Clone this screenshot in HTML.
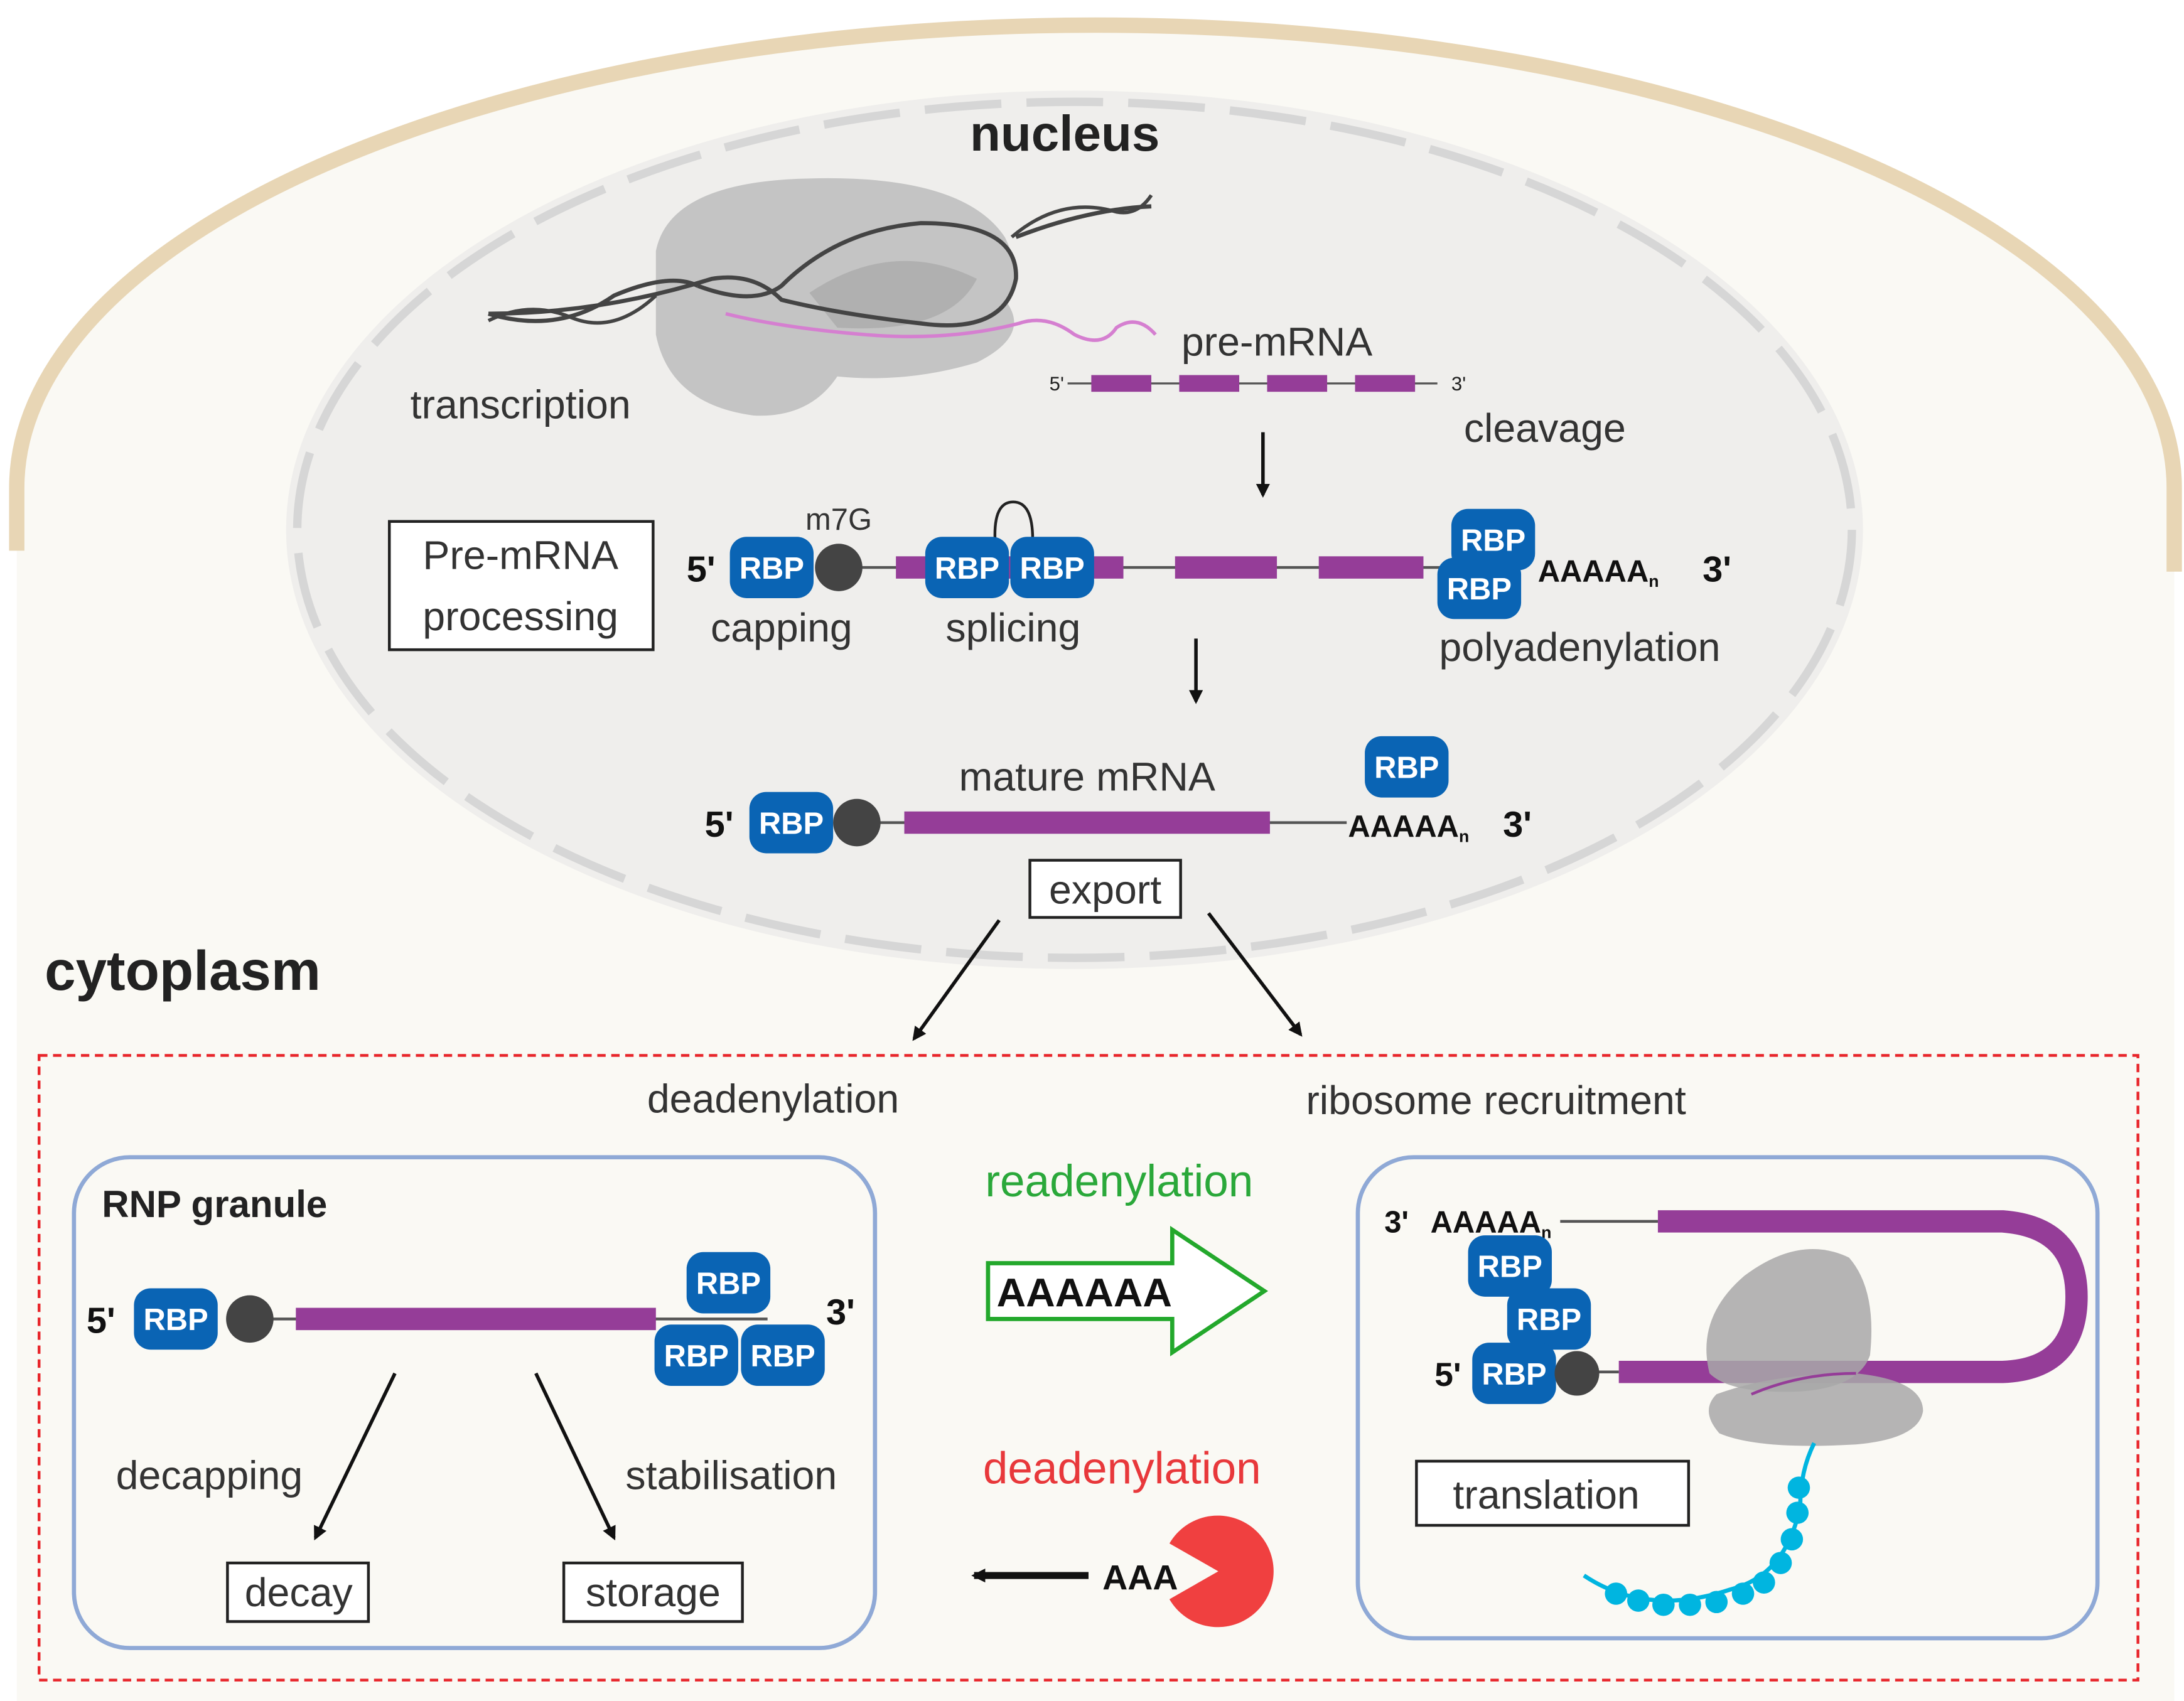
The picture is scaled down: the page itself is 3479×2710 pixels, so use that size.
<!DOCTYPE html>
<html><head><meta charset="utf-8"><style>
html,body{margin:0;padding:0;background:#fff;}
svg{display:block;}
text{font-family:"Liberation Sans",sans-serif;}
.t{fill:#333;font-size:29px;}
.rb{fill:#0a64b4;}
.rt{fill:#fff;font-size:22px;font-weight:bold;text-anchor:middle;}
.k{font-weight:bold;fill:#111;}
</style></head><body>
<svg width="3479" height="2710" viewBox="0 0 1565 1220" preserveAspectRatio="none" xmlns="http://www.w3.org/2000/svg">
<defs>
<marker id="ah" markerWidth="10" markerHeight="10" refX="8" refY="5" orient="auto" markerUnits="userSpaceOnUse"><path d="M0,0 L10,5 L0,10 z" fill="#111"/></marker>
<g id="rbp"><rect x="0" y="0" width="60" height="44" rx="12" class="rb"/></g>
</defs>
<rect width="1565" height="1220" fill="#fff"/>
<!-- cell -->
<path d="M12,1220 L12,350 A773,332 0 0,1 1558,350 L1558,1220 Z" fill="#faf9f4"/>
<path d="M12,395 L12,350 A773,332 0 0,1 1558,350 L1558,410" fill="none" stroke="#e8d6b5" stroke-width="11"/>
<!-- nucleus -->
<ellipse cx="770" cy="380" rx="565" ry="315" fill="#efeeec"/>
<ellipse cx="770" cy="380" rx="557" ry="307" fill="none" stroke="#d6d6d6" stroke-width="6" stroke-dasharray="55,18"/>
<text x="763" y="108" text-anchor="middle" font-size="36" font-weight="bold" fill="#222">nucleus</text>
<!-- polymerase -->
<path d="M470,180 Q480,130 580,128 Q690,125 720,170 Q735,200 720,215 Q740,240 700,260 Q650,275 600,270 Q580,300 540,298 Q480,290 470,240 Z" fill="#c4c4c4"/>
<path d="M580,210 Q640,170 700,200 Q680,240 600,235 Z" fill="#b0b0b0"/>
<path d="M350,225 Q400,240 440,212 Q480,195 500,205 M500,205 Q540,220 560,205 Q600,165 660,160 Q730,160 728,200 Q720,240 660,232 Q600,225 560,215 Q540,195 510,200 Q430,225 350,225 M728,170 Q780,150 825,148" stroke="#444" stroke-width="3" fill="none"/>
<path d="M350,230 Q380,215 410,228 Q440,240 470,212 M725,170 Q760,140 800,152 Q815,155 825,140" stroke="#444" stroke-width="2.5" fill="none"/>
<path d="M520,225 Q560,235 620,240 Q680,245 730,232 Q750,225 770,240 Q790,250 800,235 Q815,225 828,240" stroke="#d57fd0" stroke-width="2.5" fill="none"/>
<text x="373" y="300" text-anchor="middle" class="t">transcription</text>
<text x="915" y="255" text-anchor="middle" class="t">pre-mRNA</text>
<text x="752" y="280" font-size="14" fill="#222">5'</text>
<text x="1040" y="280" font-size="14" fill="#222">3'</text>
<line x1="765" y1="275" x2="1030" y2="275" stroke="#555" stroke-width="1.5"/>
<rect x="782" y="269" width="43" height="12" fill="#953d98"/>
<rect x="845" y="269" width="43" height="12" fill="#953d98"/>
<rect x="908" y="269" width="43" height="12" fill="#953d98"/>
<rect x="971" y="269" width="43" height="12" fill="#953d98"/>
<text x="1107" y="317" text-anchor="middle" class="t">cleavage</text>
<line x1="905" y1="310" x2="905" y2="355" stroke="#111" stroke-width="2.5" marker-end="url(#ah)"/>
<!-- processing -->
<rect x="279" y="374" width="189" height="92" fill="#fff" stroke="#222" stroke-width="2"/>
<text x="373" y="408" text-anchor="middle" class="t" fill="#222">Pre-mRNA</text>
<text x="373" y="452" text-anchor="middle" class="t" fill="#222">processing</text>
<text x="492" y="417" class="k" font-size="26">5'</text>
<line x1="600" y1="407" x2="1040" y2="407" stroke="#555" stroke-width="2"/>
<rect x="642" y="399" width="163" height="16" fill="#953d98"/>
<rect x="842" y="399" width="73" height="16" fill="#953d98"/>
<rect x="945" y="399" width="75" height="16" fill="#953d98"/>
<use href="#rbp" x="523" y="385"/><text x="553" y="415" class="rt">RBP</text>
<circle cx="601" cy="407" r="17" fill="#444"/>
<text x="601" y="380" text-anchor="middle" font-size="22" fill="#333">m7G</text>
<path d="M713,387 Q712,360 726,360 Q740,360 740,387" stroke="#222" stroke-width="2" fill="none"/>
<use href="#rbp" x="663" y="385"/><text x="693" y="415" class="rt">RBP</text>
<use href="#rbp" x="724" y="385"/><text x="754" y="415" class="rt">RBP</text>
<use href="#rbp" x="1040" y="365"/><text x="1070" y="395" class="rt">RBP</text>
<use href="#rbp" x="1030" y="400"/><text x="1060" y="430" class="rt">RBP</text>
<text x="1102" y="417" class="k" font-size="22">AAAAA<tspan font-size="12" dy="4">n</tspan></text>
<text x="1220" y="417" class="k" font-size="26">3'</text>
<text x="560" y="460" text-anchor="middle" class="t">capping</text>
<text x="726" y="460" text-anchor="middle" class="t">splicing</text>
<text x="1132" y="474" text-anchor="middle" class="t">polyadenylation</text>
<line x1="857" y1="458" x2="857" y2="503" stroke="#111" stroke-width="2.5" marker-end="url(#ah)"/>
<!-- mature -->
<text x="779" y="567" text-anchor="middle" class="t">mature mRNA</text>
<text x="505" y="600" class="k" font-size="26">5'</text>
<line x1="614" y1="590" x2="965" y2="590" stroke="#555" stroke-width="2"/>
<rect x="648" y="582" width="262" height="16" fill="#953d98"/>
<use href="#rbp" x="537" y="568"/><text x="567" y="598" class="rt">RBP</text>
<circle cx="614" cy="590" r="17" fill="#444"/>
<use href="#rbp" x="978" y="528"/><text x="1008" y="558" class="rt">RBP</text>
<text x="966" y="600" class="k" font-size="22">AAAAA<tspan font-size="12" dy="4">n</tspan></text>
<text x="1077" y="600" class="k" font-size="26">3'</text>
<rect x="738" y="617" width="108" height="41" fill="#fff" stroke="#222" stroke-width="2"/>
<text x="792" y="648" text-anchor="middle" class="t" fill="#222">export</text>
<line x1="716" y1="660" x2="655" y2="745" stroke="#111" stroke-width="2.5" marker-end="url(#ah)"/>
<line x1="866" y1="655" x2="932" y2="742" stroke="#111" stroke-width="2.5" marker-end="url(#ah)"/>
<text x="32" y="710" font-size="40" font-weight="bold" fill="#222">cytoplasm</text>
<!-- red box -->
<rect x="28" y="757" width="1504" height="448" fill="none" stroke="#e8262b" stroke-width="2" stroke-dasharray="6,4"/>
<text x="554" y="798" text-anchor="middle" class="t">deadenylation</text>
<text x="1072" y="799" text-anchor="middle" class="t">ribosome recruitment</text>
<!-- RNP granule -->
<rect x="53" y="830" width="574" height="352" rx="40" fill="#faf9f4" stroke="#8fa9d6" stroke-width="3"/>
<text x="73" y="873" font-size="27" font-weight="bold" fill="#222">RNP granule</text>
<text x="62" y="956" class="k" font-size="26">5'</text>
<line x1="178" y1="946" x2="550" y2="946" stroke="#555" stroke-width="2"/>
<rect x="212" y="938" width="258" height="16" fill="#953d98"/>
<use href="#rbp" x="96" y="924"/><text x="126" y="954" class="rt">RBP</text>
<circle cx="179" cy="946" r="17" fill="#444"/>
<use href="#rbp" x="492" y="898"/><text x="522" y="928" class="rt">RBP</text>
<use href="#rbp" x="469" y="950"/><text x="499" y="980" class="rt">RBP</text>
<use href="#rbp" x="531" y="950"/><text x="561" y="980" class="rt">RBP</text>
<text x="592" y="950" class="k" font-size="26">3'</text>
<line x1="283" y1="985" x2="226" y2="1103" stroke="#111" stroke-width="2.5" marker-end="url(#ah)"/>
<line x1="384" y1="985" x2="440" y2="1103" stroke="#111" stroke-width="2.5" marker-end="url(#ah)"/>
<text x="150" y="1068" text-anchor="middle" class="t">decapping</text>
<text x="524" y="1068" text-anchor="middle" class="t">stabilisation</text>
<rect x="163" y="1121" width="101" height="42" fill="#fff" stroke="#222" stroke-width="2"/>
<text x="214" y="1152" text-anchor="middle" class="t" fill="#222">decay</text>
<rect x="404" y="1121" width="128" height="42" fill="#fff" stroke="#222" stroke-width="2"/>
<text x="468" y="1152" text-anchor="middle" class="t" fill="#222">storage</text>
<!-- middle -->
<text x="802" y="858" text-anchor="middle" font-size="32" fill="#2aa83a">readenylation</text>
<path d="M708,906 L840,906 L840,882 L906,926 L840,970 L840,946 L708,946 Z" fill="#fff" stroke="#23a82c" stroke-width="3"/>
<text x="777" y="937" text-anchor="middle" font-size="29" font-weight="bold" fill="#111">AAAAAA</text>
<text x="804" y="1064" text-anchor="middle" font-size="32" fill="#e8383b">deadenylation</text>
<path d="M873,1127 L838,1107 A40,40 0 1,1 838,1147 Z" fill="#f04040"/>
<text x="790" y="1140" font-size="25" font-weight="bold" fill="#111">AAA</text>
<line x1="780" y1="1130" x2="698" y2="1130" stroke="#111" stroke-width="5" marker-end="url(#ah)"/>
<!-- translation box -->
<rect x="973" y="830" width="530" height="345" rx="40" fill="#faf9f4" stroke="#8fa9d6" stroke-width="3"/>
<path d="M1188,876 L1435,876 Q1488,880 1488,930 Q1488,982 1435,984 L1160,984" stroke="#953d98" stroke-width="16" fill="none"/>
<line x1="1118" y1="876" x2="1188" y2="876" stroke="#555" stroke-width="2"/>
<line x1="1145" y1="984" x2="1160" y2="984" stroke="#555" stroke-width="2"/>
<path d="M1225,985 Q1215,945 1250,915 Q1290,885 1325,902 Q1345,925 1340,972 Q1332,995 1290,998 Q1240,1000 1225,985 Z" fill="#a8a8a8" fill-opacity="0.85"/>
<path d="M1230,1000 Q1270,985 1330,985 Q1378,990 1378,1012 Q1375,1032 1330,1036 Q1260,1040 1232,1028 Q1218,1012 1230,1000 Z" fill="#a8a8a8" fill-opacity="0.85"/>
<path d="M1255,1000 Q1290,985 1330,985" stroke="#953d98" stroke-width="2" fill="none"/>
<text x="992" y="884" class="k" font-size="22">3'</text>
<text x="1025" y="884" class="k" font-size="22">AAAAA<tspan font-size="12" dy="4">n</tspan></text>
<use href="#rbp" x="1052" y="886"/><text x="1082" y="916" class="rt">RBP</text>
<use href="#rbp" x="1080" y="924"/><text x="1110" y="954" class="rt">RBP</text>
<use href="#rbp" x="1055" y="963"/><text x="1085" y="993" class="rt">RBP</text>
<text x="1028" y="994" class="k" font-size="24">5'</text>
<circle cx="1130" cy="985" r="16" fill="#444"/>
<rect x="1015" y="1048" width="195" height="46" fill="#fff" stroke="#222" stroke-width="2"/>
<text x="1108" y="1082" text-anchor="middle" class="t" fill="#222">translation</text>
<path d="M1300,1035 Q1290,1055 1290,1080 Q1280,1130 1240,1140 Q1180,1160 1135,1130" stroke="#00b5e0" stroke-width="3" fill="none"/>
<g fill="#00b5e0">
<circle cx="1289" cy="1067" r="8"/><circle cx="1288" cy="1085" r="8"/><circle cx="1284" cy="1104" r="8"/><circle cx="1276" cy="1121" r="8"/><circle cx="1264" cy="1135" r="8"/><circle cx="1249" cy="1143" r="8"/><circle cx="1230" cy="1149" r="8"/><circle cx="1211" cy="1151" r="8"/><circle cx="1192" cy="1151" r="8"/><circle cx="1174" cy="1148" r="8"/><circle cx="1158" cy="1143" r="8"/>
</g>
</svg>
</body></html>
